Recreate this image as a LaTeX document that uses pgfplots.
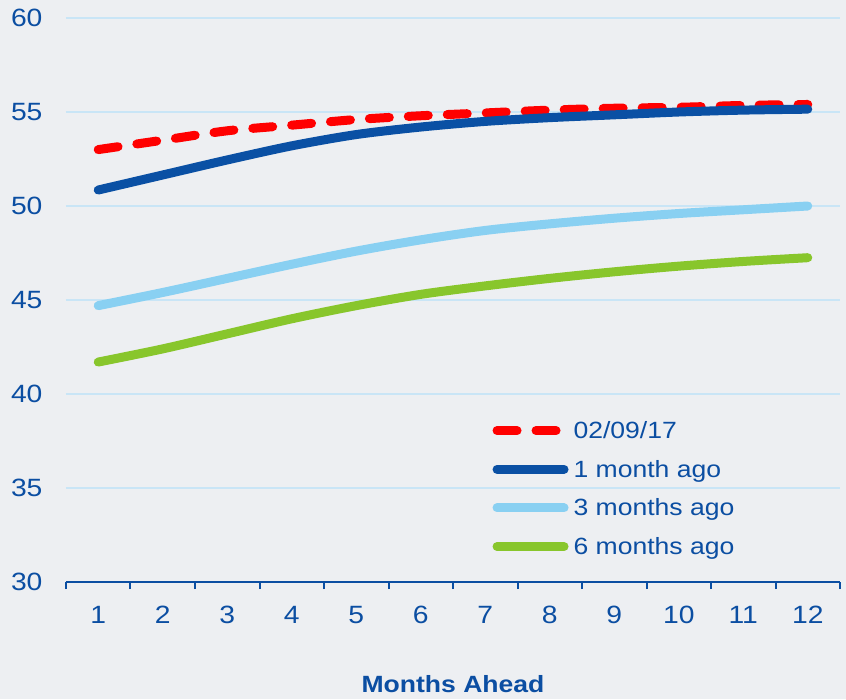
\documentclass[border=0pt]{standalone}
\usepackage{fontspec}
\setmainfont[FakeStretch=1.13]{Liberation Sans}
\usepackage{pgfplots}
\usepackage{pgfplotstable}
\pgfplotsset{compat=1.18}

\definecolor{bgcol}{HTML}{EDEFF2}
\definecolor{gridcol}{HTML}{C9E5F6}
\definecolor{txtblue}{HTML}{0B4EA2}
\definecolor{redline}{HTML}{FF0000}
\definecolor{darkblue}{HTML}{0A50A4}
\definecolor{lightblue}{HTML}{89D0F2}
\definecolor{greenline}{HTML}{88C62C}

% month ahead, expected value
\pgfplotstableread{
m  v
1  53.0
2  53.5
3  54.0
4  54.3
5  54.6
6  54.8
7  54.95
8  55.1
9  55.2
10 55.25
11 55.35
12 55.4
}\current
\pgfplotstableread{
m  v
1  50.85
2  51.65
3  52.45
4  53.2
5  53.8
6  54.2
7  54.5
8  54.7
9  54.85
10 55.0
11 55.1
12 55.15
}\onemonth
\pgfplotstableread{
m  v
1  44.7
2  45.4
3  46.15
4  46.9
5  47.6
6  48.2
7  48.7
8  49.05
9  49.35
10 49.6
11 49.8
12 50.0
}\threemonths
\pgfplotstableread{
m  v
1  41.7
2  42.4
3  43.2
4  44.0
5  44.7
6  45.3
7  45.75
8  46.15
9  46.5
10 46.8
11 47.05
12 47.25
}\sixmonths

\begin{document}
\begin{tikzpicture}
\fill[bgcol] (-66pt,-117pt) rectangle (780pt,582pt);
\begin{axis}[
  scale only axis,
  width=774pt, height=564pt,
  xmin=0.5, xmax=12.5, ymin=30, ymax=60,
  axis x line*=bottom, axis y line*=left,
  x axis line style={draw=txtblue, line width=2pt, -},
  y axis line style={draw=none},
  xtick={1,...,12},
  minor xtick={0.5,1.5,...,12.5},
  ytick={30,35,...,60},
  major tick length=0pt,
  minor tick length=7pt,
  tick align=outside,
  minor x tick style={draw=txtblue, line width=2pt},
  ytick style={draw=none},
  ymajorgrids,
  grid style={draw=gridcol, line width=1.3pt},
  /pgf/number format/assume math mode=true,
  ticklabel style={font=\fontsize{25}{29}\selectfont, text=txtblue},
  xticklabel style={yshift=-20.5pt},
  yticklabel style={xshift=-20pt},
  xlabel={\textbf{Months Ahead}},
  xlabel style={at={(axis description cs:0.5,0)}, anchor=base, yshift=-110pt,
    font=\fontsize{23.5}{27}\selectfont, text=txtblue},
  legend style={at={(axis cs:7.11,38.66)}, anchor=north west, draw=none, fill=none,
    font=\fontsize{23.5}{27}\selectfont, text=txtblue, row sep=16.1pt, inner sep=0pt,
    /tikz/every odd column/.append style={column sep=3pt}},
  legend cell align=left,
  legend image code/.code={\draw[#1] (0pt,0pt) -- (67pt,0pt);},
  every axis plot/.append style={line width=9pt, line cap=round, line join=round, smooth, tension=0.5},
]
\addplot[redline, dash pattern=on 20pt off 19pt] table[x=m, y=v] {\current};
\addlegendentry{02/09/17}
\addplot[darkblue] table[x=m, y=v] {\onemonth};
\addlegendentry{1 month ago}
\addplot[lightblue] table[x=m, y=v] {\threemonths};
\addlegendentry{3 months ago}
\addplot[greenline] table[x=m, y=v] {\sixmonths};
\addlegendentry{6 months ago}
\end{axis}
\end{tikzpicture}
\end{document}
